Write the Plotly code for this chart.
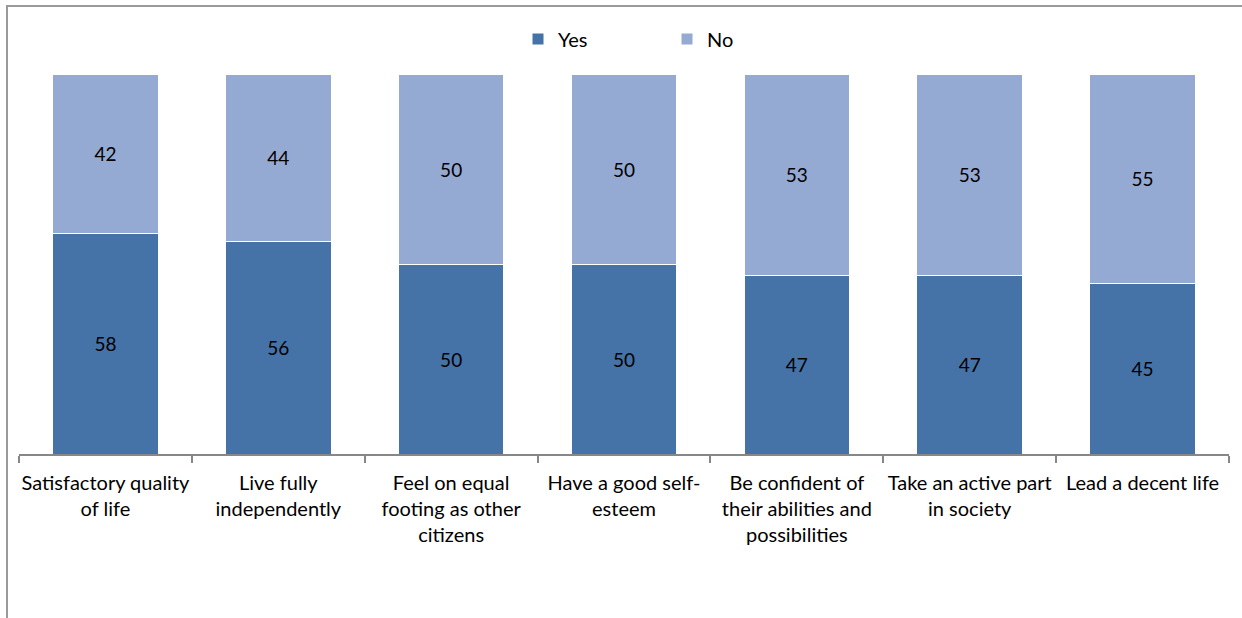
import plotly.graph_objects as go

categories = [
    "Satisfactory quality<br>of life",
    "Live fully<br>independently",
    "Feel on equal<br>footing as other<br>citizens",
    "Have a good self-<br>esteem",
    "Be confident of<br>their abilities and<br>possibilities",
    "Take an active part<br>in society",
    "Lead a decent life",
]
yes_values = [58, 56, 50, 50, 47, 47, 45]
no_values = [42, 44, 50, 50, 53, 53, 55]

FONT = "Lato"
YES_COLOR = "#4573A7"
NO_COLOR = "#95AAD2"

fig = go.Figure()
fig.add_trace(go.Bar(
    name="Yes", x=categories, y=yes_values,
    marker=dict(color=YES_COLOR, line=dict(color="white", width=1)),
    text=yes_values, textposition="inside", insidetextanchor="middle",
    textfont=dict(color="black", size=19, family=FONT),
))
fig.add_trace(go.Bar(
    name="No", x=categories, y=no_values,
    marker=dict(color=NO_COLOR, line=dict(color="white", width=1)),
    text=no_values, textposition="inside", insidetextanchor="middle",
    textfont=dict(color="black", size=19, family=FONT),
))

W, H = 1242, 618
L, R, T, B = 19, 13, 74, 164
pw = W - L - R
ph = H - T - B

def px_x(p):
    return (p - L) / pw

def px_y(p):
    return (H - B - p) / ph

fig.update_layout(
    width=W, height=H,
    barmode="stack", bargap=0.39,
    margin=dict(l=L, r=R, t=T, b=B),
    paper_bgcolor="white", plot_bgcolor="white",
    font=dict(family=FONT, size=19, color="black"),
    showlegend=True,
    legend=dict(
        orientation="h", traceorder="normal",
        x=px_x(518), xanchor="left",
        y=px_y(39), yanchor="middle",
        entrywidth=104, entrywidthmode="pixels",
        itemwidth=30, font=dict(size=20, family=FONT),
        bgcolor="rgba(0,0,0,0)",
    ),
    xaxis=dict(
        showline=True, linecolor="#878787", linewidth=2,
        ticks="outside", tickson="boundaries", ticklen=7,
        tickcolor="#878787", tickwidth=2,
        showgrid=False, zeroline=False,
        tickfont=dict(size=20, family=FONT, color="black"),
        tickangle=0, ticklabelstandoff=10,
    ),
    yaxis=dict(
        range=[0, 100], visible=False, showgrid=False, zeroline=False,
    ),
    shapes=[dict(
        type="rect", xref="paper", yref="paper",
        x0=px_x(7), x1=px_x(1260), y0=px_y(640), y1=px_y(6),
        line=dict(color="#9A9A9A", width=2), fillcolor="rgba(0,0,0,0)",
        layer="below",
    )],
)

fig.write_html("out.html")
